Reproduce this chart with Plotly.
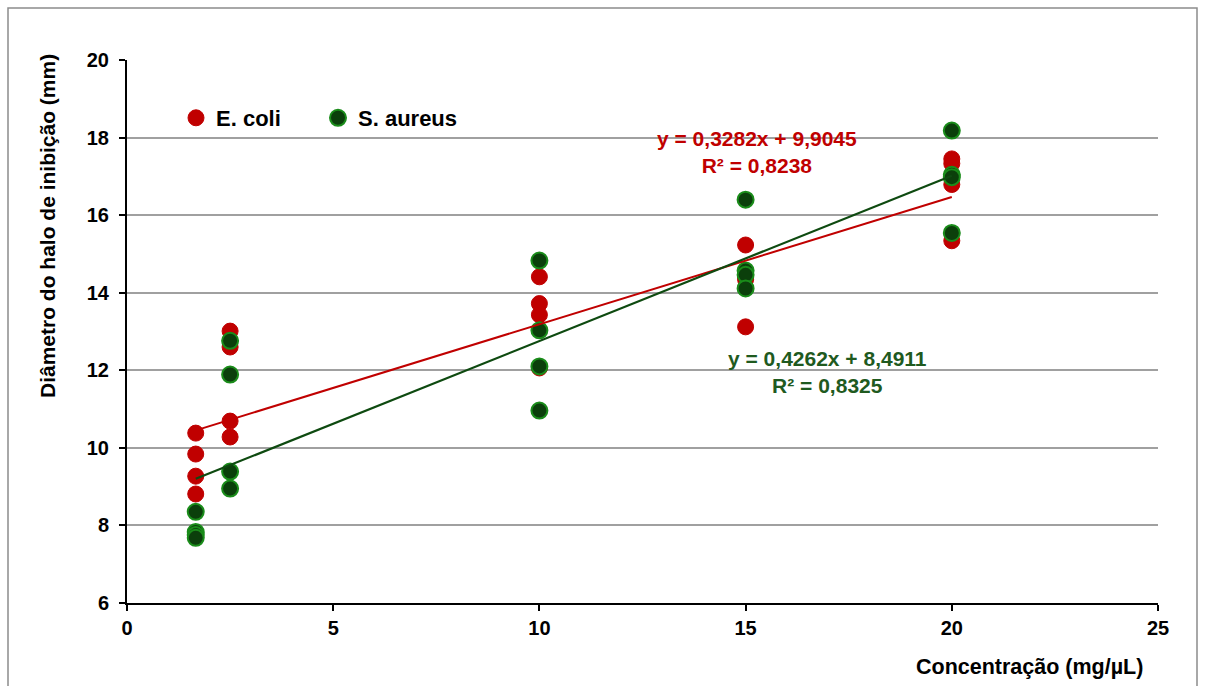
import plotly.graph_objects as go

# Concentrations tested (mg/µL) and inhibition halo diameters (mm), four replicates each
conc_levels = [5 / 3, 2.5, 10, 15, 20]

ecoli_x = [5/3]*4 + [2.5]*4 + [10]*4 + [15]*4 + [20]*4
ecoli_y = [10.38, 9.84, 9.27, 8.81,
           13.01, 12.60, 10.69, 10.28,
           14.41, 13.72, 13.43, 12.06,
           15.23, 14.40, 14.34, 13.12,
           17.45, 17.33, 16.79, 15.34]

saureus_x = [5/3]*4 + [2.5]*4 + [10]*4 + [15]*4 + [20]*4
saureus_y = [8.35, 7.83, 7.75, 7.68,
             12.76, 11.89, 9.39, 8.95,
             14.83, 13.03, 12.10, 10.96,
             16.40, 14.57, 14.46, 14.11,
             18.18, 17.04, 16.98, 15.54]

# Linear fits (slope, intercept, R²)
ecoli_fit = (0.3282, 9.9045, 0.8238)
saureus_fit = (0.4262, 8.4911, 0.8325)

y_ticks = [6, 8, 10, 12, 14, 16, 18, 20]
x_ticks = [0, 5, 10, 15, 20, 25]

RED = "#C00000"
GREEN_FILL = "#0B3F0B"
GREEN_EDGE = "#1A8C1A"
GREEN_LINE = "#0E4A10"
GREEN_TEXT = "#1F5A1F"
FONT = "Arial, Liberation Sans, sans-serif"


def fmt(v, nd=4):
    return f"{v:.{nd}f}".replace(".", ",")


def fit_line(fit):
    m, b, _ = fit
    xs = [min(conc_levels), max(conc_levels)]
    return xs, [m * x + b for x in xs]


fig = go.Figure()

ex, ey = fit_line(ecoli_fit)
sx, sy = fit_line(saureus_fit)

fig.add_trace(go.Scatter(x=ecoli_x, y=ecoli_y, mode="markers", name="E. coli",
                         marker=dict(size=16, color=RED, line=dict(color=RED, width=1))))
fig.add_trace(go.Scatter(x=saureus_x, y=saureus_y, mode="markers", name="S. aureus",
                         marker=dict(size=16, color=GREEN_FILL,
                                     line=dict(color=GREEN_EDGE, width=2))))
fig.add_trace(go.Scatter(x=ex, y=ey, mode="lines", showlegend=False,
                         line=dict(color=RED, width=2)))
fig.add_trace(go.Scatter(x=sx, y=sy, mode="lines", showlegend=False,
                         line=dict(color=GREEN_LINE, width=2.2)))

W, H = 1205, 686
L, R, T, B = 127, 47, 60, 83
pw, ph = W - L - R, H - T - B


def px(xp):
    return (xp - L) / pw


def py(yp):
    return (H - B - yp) / ph


def note(text, x, y, size, color, **kw):
    return dict(text=text, x=px(x), y=py(y), xref="paper", yref="paper",
                showarrow=False, xanchor=kw.pop("xanchor", "center"), yanchor="middle",
                font=dict(family=FONT, size=size, color=color), **kw)


annotations = [
    note(f"<b>y = {fmt(ecoli_fit[0])}x + {fmt(ecoli_fit[1])}<br>R² = {fmt(ecoli_fit[2])}</b>",
         757, 152, 21, RED, align="center"),
    note(f"<b>y = {fmt(saureus_fit[0])}x + {fmt(saureus_fit[1])}<br>R² = {fmt(saureus_fit[2])}</b>",
         827, 372, 21, GREEN_TEXT, align="center"),
    note("<b>Diâmetro do halo de inibição (mm)</b>", 47, 226, 21, "#000", textangle=-90),
    note("<b>Concentração (mg/µL)</b>", 1145, 667, 21.5, "#000", xanchor="right"),
]

fig.update_layout(
    width=W, height=H,
    margin=dict(l=L, r=R, t=T, b=B),
    paper_bgcolor="white", plot_bgcolor="white",
    font=dict(family=FONT, color="#000"),
    annotations=annotations,
    legend=dict(orientation="h", x=px(176), y=py(118), yanchor="middle", xanchor="left",
                font=dict(family=FONT, size=22, color="#000", weight="bold"),
                bgcolor="rgba(0,0,0,0)", itemwidth=30, entrywidth=97,
                entrywidthmode="pixels"),
    shapes=[dict(type="rect", xref="paper", yref="paper",
                 x0=px(8), x1=px(1197), y0=py(700), y1=py(8),
                 line=dict(color="#8C8C8C", width=1.5), layer="below")],
    showlegend=True,
)

fig.update_xaxes(range=[0, 25], tickvals=x_ticks, showgrid=False, zeroline=False,
                 showline=True, linecolor="#000", linewidth=2,
                 ticks="outside", ticklen=6, tickwidth=2, tickcolor="#000",
                 ticklabelstandoff=0,
                 tickfont=dict(family=FONT, size=20, color="#000", weight="bold"))
fig.update_yaxes(range=[6, 20], tickvals=y_ticks, showgrid=True, gridcolor="#A0A0A0",
                 gridwidth=1.5, zeroline=False,
                 showline=True, linecolor="#000", linewidth=2,
                 ticks="outside", ticklen=6, tickwidth=2, tickcolor="#000",
                 ticklabelstandoff=6,
                 tickfont=dict(family=FONT, size=20, color="#000", weight="bold"))

fig.write_html("out.html")
